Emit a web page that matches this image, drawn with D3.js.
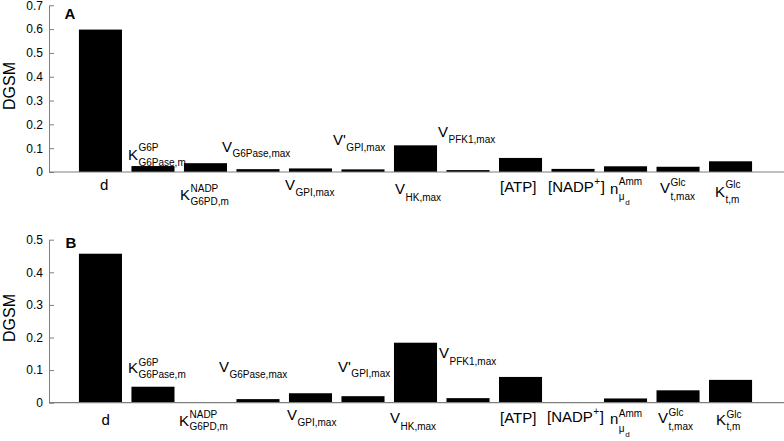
<!DOCTYPE html>
<html>
<head>
<meta charset="utf-8">
<script src="https://cdn.jsdelivr.net/npm/d3@7"></script>
<style>
  html, body { margin: 0; padding: 0; background: #fff; }
  svg { display: block; font-family: "Liberation Sans", Arial, Helvetica, sans-serif; }
</style>
</head>
<body>
<svg id="chart" width="784" height="441"></svg>
<script>
// ---- data ----
const categories = ["d", "K_G6P_G6Pase", "K_NADP_G6PD", "V_G6Pase", "V_GPI", "V'_GPI", "V_HK",
                    "V_PFK1", "ATP", "NADP", "n_Amm", "V_Glc_t", "K_Glc_t"];
const valuesA = [0.598, 0.025, 0.037, 0.012, 0.015, 0.011, 0.112, 0.008, 0.059, 0.013, 0.024, 0.022, 0.045];
const valuesB = [0.457, 0.049, 0.002, 0.011, 0.029, 0.020, 0.184, 0.014, 0.079, 0.002, 0.013, 0.038, 0.070];
const yTicksA = [0, 0.1, 0.2, 0.3, 0.4, 0.5, 0.6, 0.7];
const yTicksB = [0, 0.1, 0.2, 0.3, 0.4, 0.5];
const panelTitles = ["A", "B"];
const yAxisTitle = "DGSM";
// label texts (main symbol, superscript, subscript)
const labelTexts = [
  { main: "d" },
  { main: "K", sup: "G6P", sub: "G6Pase,m" },
  { main: "K", sup: "NADP", sub: "G6PD,m" },
  { main: "V", sub: "G6Pase,max" },
  { main: "V", sub: "GPI,max" },
  { main: "V'", sub: "GPI,max" },
  { main: "V", sub: "HK,max" },
  { main: "V", sub: "PFK1,max" },
  { main: "[ATP]" },
  { main: "[NADP", sup: "+", after: "]" },
  { main: "n", sup: "Amm", sub: "μ", subsub: "d" },
  { main: "V", sup: "Glc", sub: "t,max" },
  { main: "K", sup: "Glc", sub: "t,m" }
];

// ---- layout (not data) ----
// per label: [dx from band centre, dy of baseline from zero line, sup dy, sub dy]
const labelLayoutA = [
  [-0.5, 18, 0, 0], [-25, -12, -9, 6], [-25.5, 28, -8, 5], [-36, -20, 0, 5],
  [-25.5, 18, 0, 6], [-30, -27, 0, 6], [-20.5, 22, 0, 7], [-30, -35, 0, 6],
  [-20.5, 20, 0, 0], [-25, 20, -7, 0], [-15.5, 22, -9, 6], [-18, 21, -7, 7], [-15.5, 25, -9, 6]
];
const labelLayoutB = [
  [1, 22, 0, 0], [-25, -30, -7, 5], [-26.5, 23, -8, 4], [-39, -31, 0, 6],
  [-23.5, 17, 0, 6], [-25, -31, 0, 5], [-25.5, 20, 0, 7], [-29, -45, 0, 7],
  [-20.5, 20, 0, 0], [-26, 19, -7, 0], [-15.5, 21, -7, 8], [-20, 20, -7, 7], [-14.5, 22, -7, 5]
];

const svg = d3.select("#chart");
const axisColor = "#7f7f7f";

const x = d3.scaleBand().domain(categories).range([49, 782]).paddingInner(0.18).paddingOuter(0.57);

function drawLabel(g, spec, x0, y0, lay) {
  const main = g.append("text").attr("x", x0).attr("y", y0)
    .attr("font-size", 15).attr("fill", "#000").text(spec.main);
  const wMain = main.node().getComputedTextLength();
  const xs = x0 + wMain + 0.5;
  let wSup = 0, wSub = 0;
  if (spec.sup) {
    const s = g.append("text").attr("x", xs).attr("y", y0 + lay[2])
      .attr("font-size", 10).text(spec.sup);
    wSup = s.node().getComputedTextLength();
  }
  if (spec.sub) {
    const s = g.append("text").attr("x", xs).attr("y", y0 + lay[3])
      .attr("font-size", 10).text(spec.sub);
    wSub = s.node().getComputedTextLength();
  }
  if (spec.subsub) {
    g.append("text").attr("x", xs + wSub + 0.5).attr("y", y0 + lay[3] + 5)
      .attr("font-size", 8).text(spec.subsub);
  }
  if (spec.after) {
    g.append("text").attr("x", xs + wSup + 0.5).attr("y", y0)
      .attr("font-size", 15).text(spec.after);
  }
}

function drawPanel(values, ticks, yRange, title, titlePos, dgsmY, layout) {
  const y = d3.scaleLinear().domain([0, d3.max(ticks)]).range(yRange);
  const g = svg.append("g");

  // bars
  g.selectAll("rect.bar").data(values).join("rect")
    .attr("class", "bar")
    .attr("x", (d, i) => x(categories[i]))
    .attr("width", x.bandwidth())
    .attr("y", d => y(d))
    .attr("height", d => Math.max(0.8, y(0) - y(d)))
    .attr("fill", "#000");

  // y axis
  const ya = g.append("g").attr("transform", "translate(49,0)")
    .call(d3.axisLeft(y).tickValues(ticks).tickSizeInner(-5).tickSizeOuter(0).tickPadding(6)
      .tickFormat(d => d === 0 ? "0" : d.toFixed(1)));
  ya.select(".domain").attr("stroke", axisColor).attr("stroke-width", 1);
  ya.selectAll(".tick line").attr("stroke", axisColor);
  ya.selectAll(".tick text").attr("font-size", 12).attr("fill", "#000")
    .attr("font-family", "Liberation Sans, Arial, sans-serif");

  // x baseline
  g.append("line").attr("x1", 49).attr("x2", 784)
    .attr("y1", y(0)).attr("y2", y(0))
    .attr("stroke", axisColor).attr("stroke-width", 1.2);

  // y title
  g.append("text").attr("transform", `translate(15,${dgsmY}) rotate(-90)`)
    .attr("text-anchor", "middle").attr("font-size", 16).text(yAxisTitle);

  // panel letter
  g.append("text").attr("x", titlePos[0]).attr("y", titlePos[1])
    .attr("font-size", 15).attr("font-weight", "bold").text(title);

  // category labels
  labelTexts.forEach((spec, i) => {
    const cx = x(categories[i]) + x.bandwidth() / 2;
    const lay = layout[i];
    drawLabel(g, spec, cx + lay[0], y(0) + lay[1], lay);
  });
}

drawPanel(valuesA, yTicksA, [172, 5.3], panelTitles[0], [64.5, 18.5], 86, labelLayoutA);
drawPanel(valuesB, yTicksB, [402.7, 239.7], panelTitles[1], [65.5, 248], 318, labelLayoutB);
</script>
</body>
</html>
